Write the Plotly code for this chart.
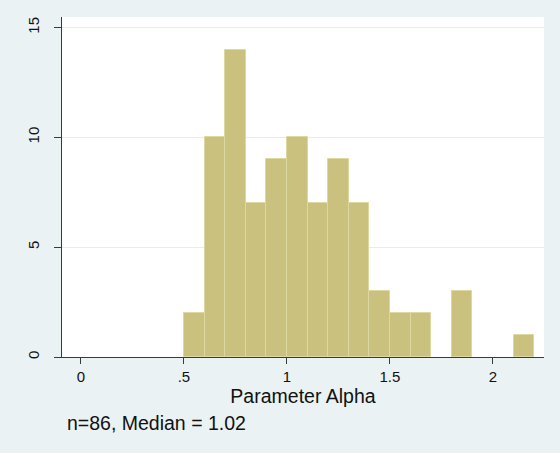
import plotly.graph_objects as go

# Histogram of Parameter Alpha (bin width 0.1)
bin_left = [0.5, 0.6, 0.7, 0.8, 0.9, 1.0, 1.1, 1.2, 1.3, 1.4, 1.5, 1.6, 1.7, 1.8, 1.9, 2.0, 2.1]
counts = [2, 10, 14, 7, 9, 10, 7, 9, 7, 3, 2, 2, 0, 3, 0, 0, 1]
bin_width = 0.1

x_tickvals = [0, 0.5, 1, 1.5, 2]
x_ticktext = ["0", ".5", "1", "1.5", "2"]
y_tickvals = [0, 5, 10, 15]
y_ticktext = ["0", "5", "10", "15"]

x_title = "Parameter Alpha"
note = "n=86, Median = 1.02"

BG = "#EAF2F3"
BAR = "#CAC17E"
BAR_LINE = "#DDD7A2"
AXIS = "#3A3A3A"
FONT = "Liberation Sans, Arial, Helvetica, sans-serif"

xs = [l + bin_width / 2 for l, c in zip(bin_left, counts) if c > 0]
ys = [c for c in counts if c > 0]

fig = go.Figure()
fig.add_trace(go.Bar(
    x=xs, y=ys, width=bin_width,
    marker=dict(color=BAR, line=dict(color=BAR_LINE, width=1)),
    hovertemplate="%{x}: %{y}<extra></extra>",
))

fig.update_layout(
    width=560, height=453,
    margin=dict(l=62, r=16, t=17, b=96),
    paper_bgcolor=BG,
    plot_bgcolor="white",
    showlegend=False,
    bargap=0,
    font=dict(family=FONT, color="#111111"),
    xaxis=dict(
        range=[-0.092, 2.248],
        tickvals=x_tickvals, ticktext=x_ticktext,
        ticks="outside", ticklen=6, tickcolor=AXIS, tickwidth=1,
        showline=True, linecolor=AXIS, linewidth=1.3,
        showgrid=False, zeroline=False,
        tickfont=dict(size=15, family=FONT, color="#111111"),
        title=dict(text=x_title, font=dict(size=19.5, family=FONT, color="#111111"), standoff=1),
    ),
    yaxis=dict(
        range=[0, 15.48],
        tickvals=y_tickvals, ticktext=y_ticktext,
        ticks="outside", ticklen=7, tickcolor=AXIS, tickwidth=1,
        showline=True, linecolor=AXIS, linewidth=1,
        showgrid=True, gridcolor="#E3ECEE", gridwidth=1,
        zeroline=False,
        tickangle=-90,
        ticklabelstandoff=9,
        tickfont=dict(size=15, family=FONT, color="#111111"),
    ),
    annotations=[dict(
        text=note, xref="paper", yref="paper",
        x=3 / 482, y=-(422.5 - 357) / 340,
        xanchor="left", yanchor="middle", showarrow=False,
        font=dict(size=19.5, family=FONT, color="#111111"),
    )],
)

fig.write_html(
    "out.html",
    config={"displayModeBar": False},
    post_script="document.body.style.margin='0';document.body.style.overflow='hidden';",
)
